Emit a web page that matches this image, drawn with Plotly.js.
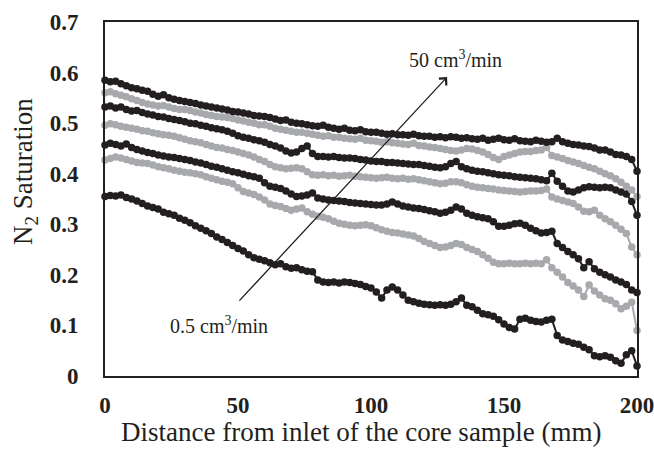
<!DOCTYPE html>
<html>
<head>
<meta charset="utf-8">
<script src="https://cdn.plot.ly/plotly-3.0.1.min.js"></script>
<style>html,body{margin:0;padding:0;background:#fff;}</style>
</head>
<body>
<div id="chart" style="width:654px;height:450px;"></div>
<script>
// Distance from inlet (mm), one reading every 2 mm
const distance = [0,2,4,6,8,10,12,14,16,18,20,22,24,26,28,30,32,34,36,38,40,42,44,46,48,50,52,54,56,58,60,62,64,66,68,70,72,74,76,78,80,82,84,86,88,90,92,94,96,98,100,102,104,106,108,110,112,114,116,118,120,122,124,126,128,130,132,134,136,138,140,142,144,146,148,150,152,154,156,158,160,162,164,166,168,170,172,174,176,178,180,182,184,186,188,190,192,194,196,198,200];

// N2 saturation, from lowest flow rate (0.5 cm3/min) to highest (50 cm3/min)
const rate1 = [.355,.357,.356,.358,.353,.350,.346,.341,.336,.333,.330,.324,.321,.318,.312,.308,.303,.297,.292,.287,.282,.275,.270,.264,.258,.252,.247,.240,.234,.231,.228,.224,.220,.222,.216,.213,.214,.210,.207,.206,.190,.186,.185,.186,.184,.186,.185,.183,.181,.177,.174,.166,.154,.170,.176,.170,.160,.150,.147,.144,.142,.141,.140,.141,.140,.142,.147,.154,.140,.137,.130,.123,.121,.118,.111,.103,.096,.093,.112,.114,.110,.108,.107,.110,.112,.080,.071,.068,.065,.063,.057,.052,.040,.038,.040,.037,.030,.025,.042,.050,.020];
const rate2 = [.427,.430,.433,.431,.428,.425,.422,.421,.420,.417,.414,.412,.410,.407,.405,.403,.402,.400,.398,.394,.391,.388,.385,.383,.380,.372,.365,.362,.359,.354,.348,.340,.337,.335,.331,.328,.330,.332,.325,.320,.316,.314,.311,.306,.302,.300,.298,.297,.298,.299,.297,.293,.289,.286,.284,.283,.281,.279,.277,.272,.266,.262,.258,.254,.255,.258,.262,.260,.254,.250,.246,.240,.233,.225,.222,.222,.223,.222,.222,.223,.222,.223,.222,.230,.214,.205,.196,.185,.178,.170,.157,.180,.168,.160,.153,.150,.143,.133,.138,.146,.090];
const rate3 = [.457,.460,.458,.455,.459,.452,.448,.445,.442,.440,.437,.435,.433,.432,.430,.428,.426,.423,.421,.418,.415,.413,.410,.407,.404,.402,.399,.396,.394,.391,.382,.375,.373,.371,.366,.360,.355,.356,.358,.362,.352,.350,.348,.347,.346,.345,.343,.342,.341,.340,.339,.338,.338,.340,.344,.340,.336,.334,.332,.331,.329,.327,.325,.322,.324,.328,.334,.330,.322,.318,.315,.313,.311,.305,.296,.296,.298,.301,.302,.298,.292,.287,.283,.284,.286,.262,.254,.246,.240,.232,.214,.226,.212,.205,.200,.196,.190,.186,.181,.170,.165];
const rate4 = [.496,.499,.497,.494,.492,.490,.488,.485,.484,.481,.479,.477,.476,.474,.471,.468,.465,.463,.461,.458,.455,.452,.451,.448,.446,.443,.440,.437,.433,.428,.424,.418,.414,.412,.410,.411,.412,.410,.404,.398,.397,.398,.396,.397,.395,.396,.397,.395,.394,.393,.392,.391,.392,.393,.391,.390,.391,.389,.390,.388,.386,.384,.382,.380,.381,.384,.384,.382,.378,.375,.373,.372,.371,.370,.368,.367,.366,.365,.364,.365,.366,.366,.367,.370,.354,.350,.347,.344,.341,.334,.326,.325,.328,.318,.311,.305,.298,.290,.282,.255,.240];
const rate5 = [.532,.534,.530,.532,.527,.524,.525,.521,.518,.516,.513,.512,.509,.507,.505,.503,.500,.499,.496,.494,.491,.489,.487,.484,.480,.475,.472,.470,.467,.465,.462,.458,.455,.451,.445,.441,.443,.450,.455,.440,.434,.434,.433,.434,.432,.431,.431,.430,.428,.427,.425,.424,.424,.422,.422,.421,.420,.419,.418,.418,.416,.415,.413,.412,.414,.420,.424,.414,.410,.407,.405,.404,.402,.400,.398,.397,.396,.394,.393,.392,.391,.390,.388,.386,.401,.385,.375,.366,.364,.368,.372,.374,.373,.372,.373,.372,.368,.364,.360,.345,.318];
const rate6 = [.560,.562,.558,.555,.552,.548,.545,.541,.538,.536,.534,.535,.532,.529,.527,.527,.525,.522,.520,.517,.515,.513,.512,.511,.509,.506,.504,.502,.500,.497,.497,.494,.490,.488,.486,.484,.482,.482,.480,.478,.476,.474,.475,.472,.472,.470,.469,.468,.470,.466,.465,.464,.462,.463,.461,.460,.459,.458,.460,.456,.455,.453,.452,.450,.448,.446,.445,.447,.450,.449,.446,.443,.438,.432,.428,.434,.437,.440,.443,.444,.444,.446,.447,.452,.436,.433,.430,.426,.423,.420,.416,.413,.410,.405,.400,.396,.390,.383,.375,.368,.355];
const rate7 = [.585,.582,.583,.578,.574,.570,.568,.565,.563,.557,.553,.556,.550,.547,.545,.543,.541,.539,.536,.534,.532,.530,.528,.526,.523,.522,.520,.518,.515,.514,.513,.511,.508,.505,.506,.502,.500,.499,.497,.495,.494,.496,.492,.490,.488,.490,.486,.485,.487,.483,.482,.482,.480,.478,.479,.477,.477,.476,.478,.475,.474,.474,.472,.473,.471,.473,.472,.470,.471,.469,.468,.470,.466,.468,.470,.467,.466,.469,.465,.464,.463,.466,.464,.462,.463,.470,.463,.460,.458,.457,.455,.454,.451,.447,.447,.443,.438,.437,.434,.428,.405];

const seriesList = [rate1, rate2, rate3, rate4, rate5, rate6, rate7];
const seriesColors = ['#231f20', '#a7a9ac', '#231f20', '#a7a9ac', '#231f20', '#a7a9ac', '#231f20'];

const xTicks = [0, 50, 100, 150, 200];
const yTicks = [0, 0.1, 0.2, 0.3, 0.4, 0.5, 0.6, 0.7];

const xTitle = 'Distance from inlet of the core sample (mm)';
const yTitle = 'N<sub>2</sub> Saturation';

const serif = 'Liberation Serif, Times New Roman, serif';

const traces = seriesList.map((vals, i) => ({
  x: distance,
  y: vals,
  type: 'scatter',
  mode: 'lines+markers',
  line: {color: seriesColors[i], width: 2},
  marker: {color: seriesColors[i], size: 7.5},
  cliponaxis: false,
  hoverinfo: 'skip'
}));

const layout = {
  width: 654,
  height: 450,
  margin: {l: 105, r: 17, t: 22, b: 74},
  paper_bgcolor: '#fff',
  plot_bgcolor: '#fff',
  showlegend: false,
  font: {family: serif, color: '#231f20'},
  xaxis: {
    range: [0, 200],
    tickvals: xTicks,
    ticktext: xTicks.map(String),
    showgrid: false, zeroline: false,
    showline: true, mirror: true, linecolor: '#231f20', linewidth: 2,
    ticks: 'outside', ticklen: 7, tickcolor: 'rgba(0,0,0,0)',
    ticklabeloverflow: 'allow',
    tickfont: {family: serif, size: 23, weight: 'bold', color: '#231f20'},
    automargin: false
  },
  yaxis: {
    range: [0, 0.7],
    tickvals: yTicks,
    ticktext: yTicks.map(v => v === 0 ? '0' : v.toFixed(1)),
    showgrid: false, zeroline: false,
    showline: true, mirror: true, linecolor: '#231f20', linewidth: 2,
    ticks: 'outside', ticklen: 20, tickcolor: 'rgba(0,0,0,0)',
    ticklabeloverflow: 'allow',
    tickfont: {family: serif, size: 23, weight: 'bold', color: '#231f20'},
    automargin: false
  },
  annotations: [
    {x: 361, y: 432, xref: 'paper', yref: 'paper', text: xTitle, showarrow: false,
     xanchor: 'center', yanchor: 'middle', font: {family: serif, size: 27, color: '#231f20'}},
    {x: 25, y: 172, xref: 'paper', yref: 'paper', text: yTitle, showarrow: false, textangle: -90,
     xanchor: 'center', yanchor: 'middle', font: {family: serif, size: 27, color: '#231f20'}},
    {x: 128.6, y: 0.591, ax: 50, ay: 0.146, xref: 'x', yref: 'y', axref: 'x', ayref: 'y',
     text: '', showarrow: true, arrowhead: 4, arrowsize: 1.5, arrowwidth: 1.3, arrowcolor: '#231f20', standoff: 0},
    {x: 131.6, y: 0.627, xref: 'x', yref: 'y', text: '50 cm<sup>3</sup>/min', showarrow: false,
     font: {family: serif, size: 20, color: '#231f20'}},
    {x: 42.9, y: 0.101, xref: 'x', yref: 'y', text: '0.5 cm<sup>3</sup>/min', showarrow: false,
     font: {family: serif, size: 20, color: '#231f20'}}
  ]
};

// convert the two axis-title annotations from pixel positions to paper fractions
const plotW = layout.width - layout.margin.l - layout.margin.r;
const plotH = layout.height - layout.margin.t - layout.margin.b;
[0, 1].forEach(i => {
  const a = layout.annotations[i];
  a.x = (a.x - layout.margin.l) / plotW;
  a.y = (layout.height - layout.margin.b - a.y) / plotH;
});

Plotly.newPlot('chart', traces, layout, {staticPlot: true, displayModeBar: false});
</script>
</body>
</html>
